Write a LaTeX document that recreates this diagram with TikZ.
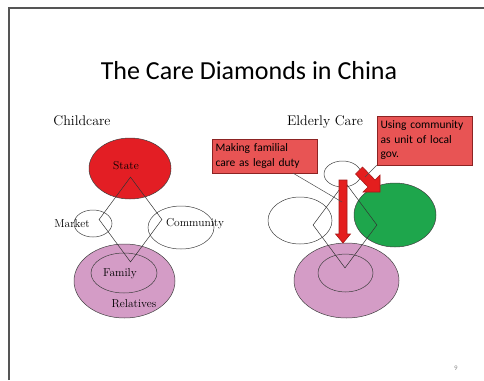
\documentclass[tikz,border=0pt]{standalone}
\usepackage{fontspec}
\newfontfamily\calibri{Carlito}
\usetikzlibrary{shapes.geometric,calc}
\definecolor{statered}{RGB}{227,30,36}
\definecolor{kinpink}{RGB}{212,156,198}
\definecolor{commgreen}{RGB}{30,166,76}
\definecolor{boxred}{RGB}{232,84,84}
\definecolor{boxedge}{RGB}{140,35,35}
\definecolor{arrowred}{RGB}{228,30,30}
\definecolor{arrowedge}{RGB}{165,25,25}
\definecolor{framegray}{RGB}{85,85,85}

\begin{document}
\begin{tikzpicture}[x=1pt, y=-1pt,
  every node/.style={font=\fontsize{11.5}{13}\selectfont},
  ring/.style={ellipse, draw=black!75, line width=0.5pt, inner sep=0},
  kite/.style={diamond, draw=black!80, line width=0.5pt, inner sep=0},
  push/.style={draw=arrowedge, fill=arrowred, line width=0.6pt, line join=miter},
  callout/.style={rectangle, draw=boxedge, fill=boxred, line width=0.6pt,
    align=left, inner xsep=3.5pt, inner ysep=0pt,
    font=\calibri\fontsize{11.5}{14.5}\selectfont},
  pointer/.style={draw=black!70, line width=0.5pt},
  heading/.style={anchor=base, font=\fontsize{14}{16}\selectfont},
  tag/.style={anchor=base}]
\useasboundingbox (0,0) rectangle (484,380);
\draw[framegray, line width=1.6pt] (9,380) -- (9,8) -- (484,8);

\node[font=\calibri\fontsize{26}{30}\selectfont] (title) at (249,71) {The Care Diamonds in China};
\node[font=\calibri\fontsize{7}{8}\selectfont, text=black!45] (page) at (456,368) {9};

% childcare
\node[heading] (child) at (82,125) {Childcare};
\node[ring, fill=kinpink, minimum width=101, minimum height=74] (kin) at (124.5,281) {};
\node[ring, minimum width=66, minimum height=40] (family) at (124,273) {};
\node[ring, fill=statered, minimum width=82, minimum height=61] (state) at (130,168.5) {};
\node[ring, minimum width=38, minimum height=27] (market) at (93,223.5) {};
\node[ring, minimum width=66, minimum height=43] (comm) at (181,227.5) {};
\node[kite, minimum width=63, minimum height=85] (childkite) at (130.5,219.5) {};
\node[tag] at (126,169) {State};
\node[tag] at (72,227) {Market};
\node[tag] at (195,226) {Community};
\node[tag] at (120,276) {Family};
\node[tag] at (134,307) {Relatives};

% elderly care
\node[heading] (elder) at (325,125) {Elderly Care};
\node[ring, fill=kinpink, minimum width=105, minimum height=75] (ekin) at (346.5,280.5) {};
\node[ring, minimum width=55, minimum height=38] (efamily) at (345.5,273) {};
\node[ring, minimum width=37, minimum height=26] (estate) at (342.5,174) {};
\node[ring, minimum width=64, minimum height=47] (emarket) at (300,220.5) {};
\node[ring, fill=commgreen, minimum width=82, minimum height=64] (ecomm) at (395,215) {};
\node[kite, minimum width=64, minimum height=86] (elderkite) at (345,225) {};

% block arrows
\draw[push] (339,180) -- (347,180) -- (347,234) -- (350.5,234) -- (343,243)
  -- (335.5,234) -- (339,234) -- cycle;
\draw[push] (362.5,167) -- (375,180) -- (380,175) -- (380,192) -- (363,192)
  -- (368,187) -- (355.5,174) -- cycle;
\coordinate (dutytouch) at (342,202);
\coordinate (commtouch) at (365,177);

\node[callout, minimum width=105, minimum height=34, text width=98] (dutybox) at (264.5,156)
  {Making familial\\care as legal duty};
\node[callout, minimum width=95, minimum height=49, text width=88] (commbox) at (424.5,140.5)
  {Using community\\as unit of local\\gov.};
\draw[pointer] ($(dutybox.south east)+(-24,0)$) -- (dutytouch);
\draw[pointer] (commbox.south west) -- (commtouch);
\end{tikzpicture}
\end{document}
